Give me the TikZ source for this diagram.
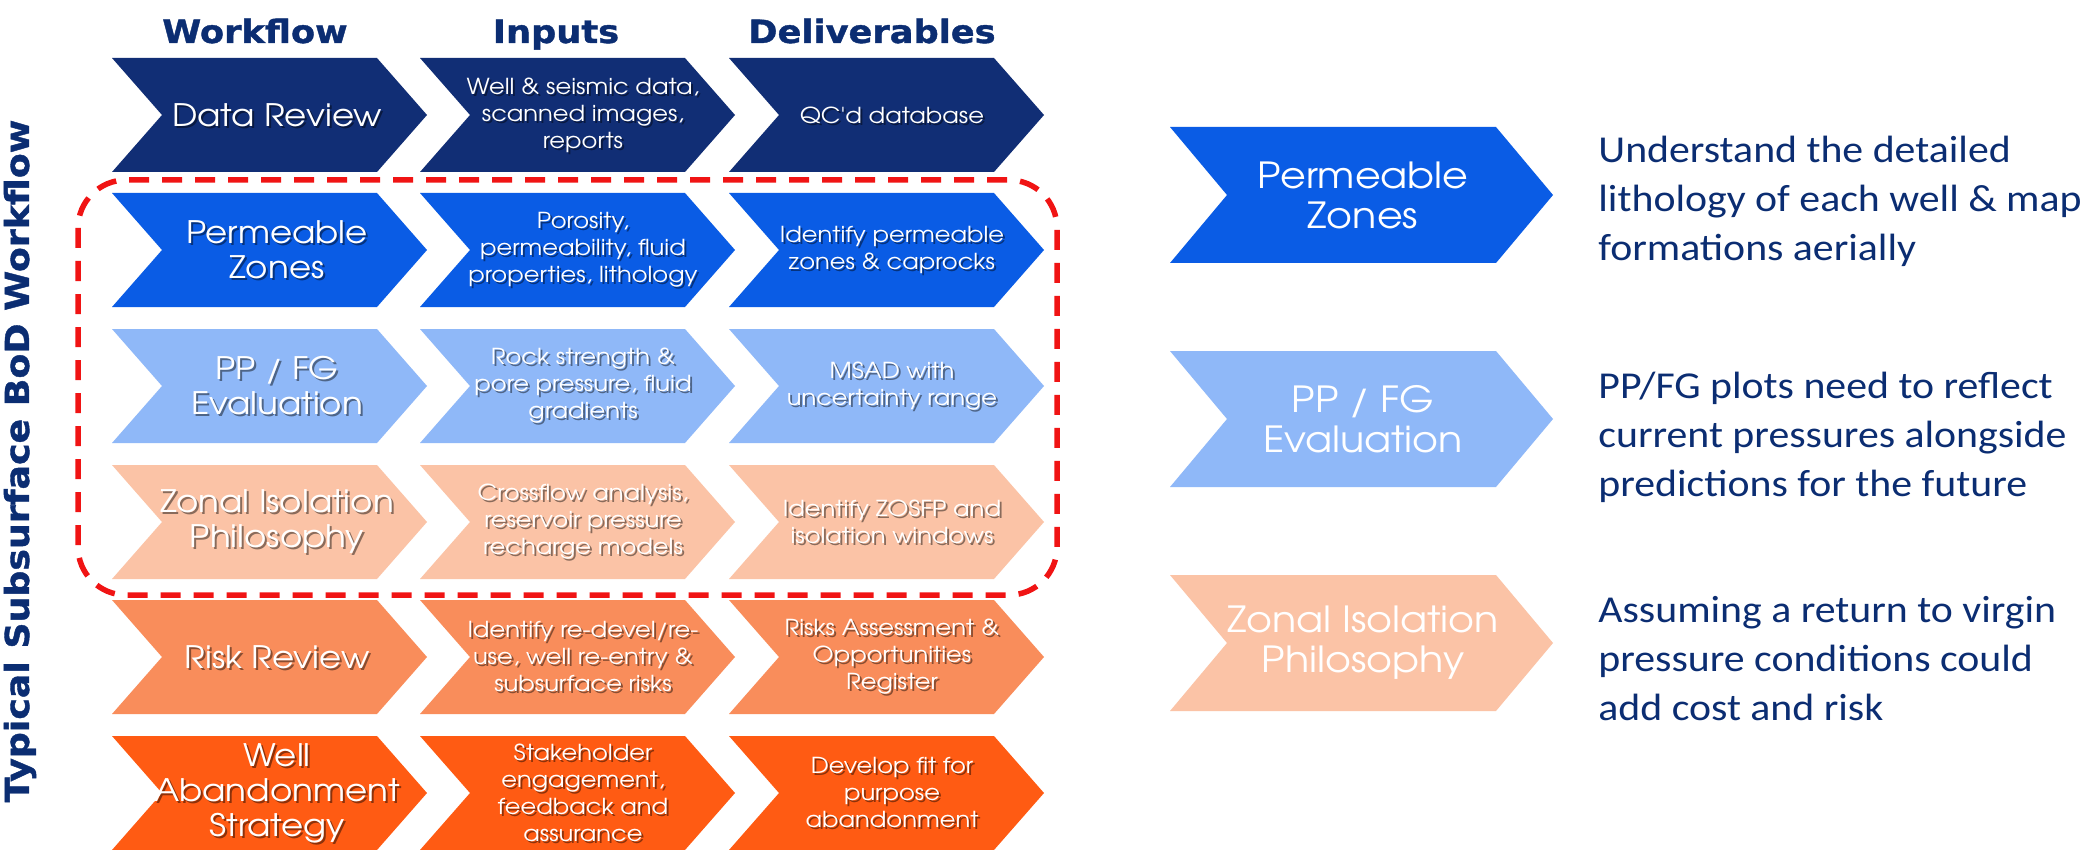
\documentclass[tikz,border=0pt]{standalone}
\usepackage{fontspec}
\newfontfamily\cgf[FakeStretch=1.1]{texgyreadventor-regular.otf}
\newfontfamily\hdf[FakeStretch=1.1,BoldFeatures={FakeBold=1.2}]{DejaVu Sans}
\newfontfamily\carf[FakeStretch=1.1]{Carlito}
\definecolor{navyT}{HTML}{0B2D72}
\definecolor{rowA}{HTML}{112E75}
\definecolor{rowB}{HTML}{0A5CE5}
\definecolor{rowC}{HTML}{8FB8F8}
\definecolor{rowD}{HTML}{FBC3A6}
\definecolor{rowE}{HTML}{F98D5B}
\definecolor{rowF}{HTML}{FF5B13}
\definecolor{dashred}{HTML}{F01414}
% #1 name, #2 left x, #3 top y, #4 width, #5 height, #6 depth, #7 colour, #8 text offset x
\newcommand\chevshape[8]{%
  \fill[#7] (#2,#3) -- ++(#4-#6,0) -- ++(#6,#5/2) -- ++(-#6,#5/2) -- ++(-#4+#6,0) -- ++(#6,-#5/2) -- cycle;
  \coordinate (#1) at (#2+#8,#3+#5/2);}
\newcommand\shtext[3]{%
  \node[#2,shd] (#1s) at ([shift={(2,2)}]#1) {#3};
  \node[#2] (#1t) at (#1) {#3};}
\begin{document}
\begin{tikzpicture}[x=0.5pt,y=-0.5pt,
  ctA/.style={text=white,font=\cgf\fontsize{15.5}{17.5}\selectfont,align=center,inner sep=0pt},
  ctB/.style={text=white,font=\cgf\fontsize{11}{13.5}\selectfont,align=center,inner sep=0pt},
  ctR/.style={text=white,font=\cgf\fontsize{18}{20}\selectfont,align=center,inner sep=0pt},
  shd/.style={text=black,text opacity=0.45},
  rtxt/.style={text=navyT,font=\carf\fontsize{19}{24.5}\selectfont,align=left,anchor=west,inner sep=0pt},
  hdr/.style={text=navyT,font=\hdf\bfseries\fontsize{16}{19}\selectfont,anchor=base,inner sep=0pt},
  redbox/.style={draw=dashred,line width=2.75pt,dash pattern=on 10pt off 6.5pt,rounded corners=24pt}]
\fill[white] (0,0) rectangle (2087,850);
\useasboundingbox (0,0) rectangle (2087,850);
% headers
\node[hdr] (h1) at (255,43) {Workflow};
\node[hdr] (h2) at (556,43) {Inputs};
\node[hdr] (h3) at (872,43) {Deliverables};
\node[rotate=90,text=navyT,font=\hdf\bfseries\fontsize{16.5}{18}\selectfont,inner sep=0pt] (vt) at (20,461) {Typical Subsurface BoD Workflow};
% rows
\chevshape{a1}{112}{58}{315}{114}{50}{rowA}{165}
\chevshape{a2}{420}{58}{315}{114}{50}{rowA}{163}
\chevshape{a3}{729}{58}{315}{114}{50}{rowA}{163}
\chevshape{b1}{112}{193}{315}{114}{50}{rowB}{165}
\chevshape{b2}{420}{193}{315}{114}{50}{rowB}{163}
\chevshape{b3}{729}{193}{315}{114}{50}{rowB}{163}
\chevshape{c1}{112}{329}{315}{114}{50}{rowC}{165}
\chevshape{c2}{420}{329}{315}{114}{50}{rowC}{163}
\chevshape{c3}{729}{329}{315}{114}{50}{rowC}{163}
\chevshape{d1}{112}{465}{315}{114}{50}{rowD}{165}
\chevshape{d2}{420}{465}{315}{114}{50}{rowD}{163}
\chevshape{d3}{729}{465}{315}{114}{50}{rowD}{163}
\chevshape{e1}{112}{600}{315}{114}{50}{rowE}{165}
\chevshape{e2}{420}{600}{315}{114}{50}{rowE}{163}
\chevshape{e3}{729}{600}{315}{114}{50}{rowE}{163}
\chevshape{f1}{112}{736}{315}{114}{50}{rowF}{165}
\chevshape{f2}{420}{736}{315}{114}{50}{rowF}{163}
\chevshape{f3}{729}{736}{315}{114}{50}{rowF}{163}
\shtext{a1}{ctA}{Data Review}
\shtext{a2}{ctB}{Well \& seismic data,\\scanned images,\\reports}
\shtext{a3}{ctB}{QC'd database}
\shtext{b1}{ctA}{Permeable\\Zones}
\shtext{b2}{ctB}{Porosity,\\permeability, fluid\\properties, lithology}
\shtext{b3}{ctB}{Identify permeable\\zones \& caprocks}
\shtext{c1}{ctA}{PP / FG\\Evaluation}
\shtext{c2}{ctB}{Rock strength \&\\pore pressure, fluid\\gradients}
\shtext{c3}{ctB}{MSAD with\\uncertainty range}
\shtext{d1}{ctA}{Zonal Isolation\\Philosophy}
\shtext{d2}{ctB}{Crossflow analysis,\\reservoir pressure\\recharge models}
\shtext{d3}{ctB}{Identify ZOSFP and\\isolation windows}
\shtext{e1}{ctA}{Risk Review}
\shtext{e2}{ctB}{Identify re-devel/re-\\use, well re-entry \&\\subsurface risks}
\shtext{e3}{ctB}{Risks Assessment \&\\Opportunities\\Register}
\shtext{f1}{ctA}{Well\\Abandonment\\Strategy}
\shtext{f2}{ctB}{Stakeholder\\engagement,\\feedback and\\assurance}
\shtext{f3}{ctB}{Develop fit for\\purpose\\abandonment}
% red dashed frame
\draw[redbox] (78,180) rectangle (1057,595);
% right side
\chevshape{r1}{1170}{127}{383}{136}{57}{rowB}{193}
\chevshape{r2}{1170}{351}{383}{136}{57}{rowC}{193}
\chevshape{r3}{1170}{575}{383}{136}{57}{rowD}{193}
\node[ctR] (r1t) at (r1) {Permeable\\Zones};
\node[ctR] (r2t) at (r2) {PP / FG\\Evaluation};
\node[ctR] (r3t) at (r3) {Zonal Isolation\\Philosophy};
\node[rtxt] (x1) at (1598,201) {Understand the detailed\\lithology of each well \& map\\formations aerially};
\node[rtxt] (x2) at (1598,437) {PP/FG plots need to reflect\\current pressures alongside\\predictions for the future};
\node[rtxt] (x3) at (1598,659) {Assuming a return to virgin\\pressure conditions could\\add cost and risk};
\end{tikzpicture}
\end{document}
